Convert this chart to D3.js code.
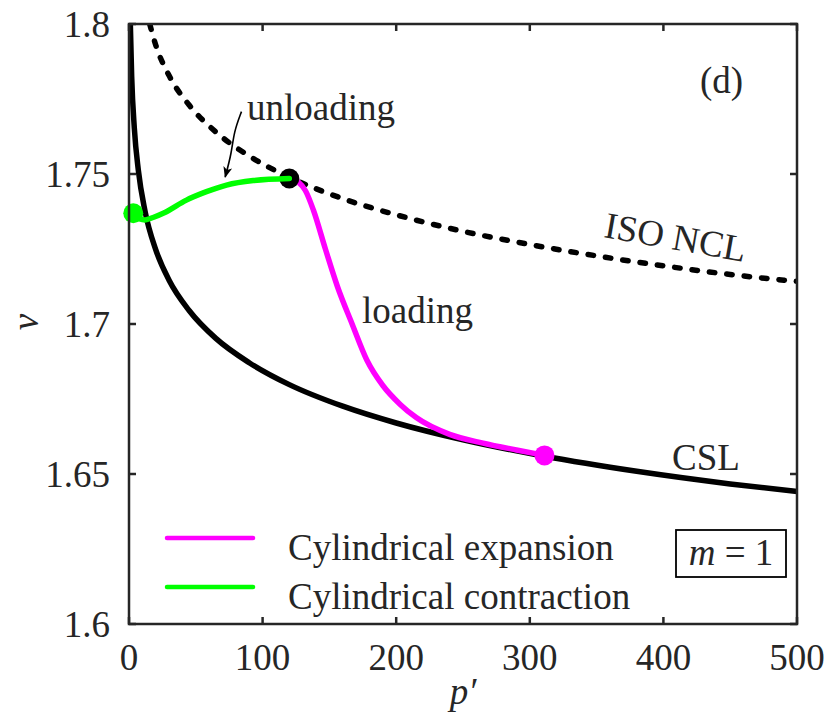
<!DOCTYPE html>
<html>
<head>
<script src="https://d3js.org/d3.v7.min.js"></script>
<style>
  body { margin: 0; background: #fff; }
  svg text { font-family: "Times New Roman", "Liberation Serif", Tinos, "DejaVu Serif", serif; }
</style>
</head>
<body>
<svg width="831" height="717"></svg>
<script>
"use strict";

// critical state line (p', v)
var cslP = [1, 2, 4, 7, 12, 20, 30, 45, 65, 90, 120, 160, 200, 250, 310, 380, 450, 500];
var cslV = [1.800, 1.7826, 1.7652, 1.7512, 1.7376, 1.7248, 1.7146, 1.7045, 1.6952, 1.6871,
            1.6798, 1.6726, 1.6670, 1.6614, 1.6560, 1.6509, 1.6467, 1.6442];

// isotropic normal compression line
var nclP = [15.5, 20, 30, 45, 65, 90, 120, 160, 200, 250, 300, 350, 400, 450, 500];
var nclV = [1.800, 1.7930, 1.7828, 1.7730, 1.7640, 1.7560, 1.7489, 1.7418, 1.7364, 1.7309,
            1.7265, 1.7227, 1.7194, 1.7165, 1.7142];

// cylindrical expansion (loading)
var expP = [120, 127, 132, 138, 147, 156, 167, 178, 190, 203, 215, 240, 265, 290, 311];
var expV = [1.7485, 1.7472, 1.7445, 1.7380, 1.7250, 1.7125, 1.7000, 1.6880, 1.6795, 1.6732,
            1.6688, 1.6632, 1.6603, 1.6580, 1.6562];

// cylindrical contraction (unloading)
var conP = [3.2, 8, 12, 18, 26, 43, 58, 73, 93, 120];
var conV = [1.7369, 1.7350, 1.7347, 1.7355, 1.7370, 1.7413, 1.7441, 1.7463, 1.7478, 1.7485];

var xTicks = [0, 100, 200, 300, 400, 500];
var yTicks = [1.6, 1.65, 1.7, 1.75, 1.8];

var svg = d3.select("svg"),
    margin = {left: 129, top: 24, right: 34, bottom: 93},
    width = +svg.attr("width") - margin.left - margin.right,
    height = +svg.attr("height") - margin.top - margin.bottom;

var x = d3.scaleLinear().domain([0, 500]).range([0, width]),
    y = d3.scaleLinear().domain([1.6, 1.8]).range([height, 0]);

var g = svg.append("g").attr("transform", "translate(" + margin.left + "," + margin.top + ")");

svg.append("defs").append("clipPath").attr("id", "clip")
    .append("rect").attr("width", width).attr("height", height);

var zip = (ps, vs) => ps.map((p, i) => [p, vs[i]]);
var line = d3.line().x(d => x(d[0])).y(d => y(d[1])).curve(d3.curveMonotoneX);
var lw = 5.5, fs = 37;

var plot = g.append("g").attr("clip-path", "url(#clip)");

plot.append("path").attr("d", line(zip(cslP, cslV)))
    .attr("fill", "none").attr("stroke", "#000").attr("stroke-width", lw);

plot.append("path").attr("d", line(zip(nclP, nclV)))
    .attr("fill", "none").attr("stroke", "#000").attr("stroke-width", lw)
    .attr("stroke-linecap", "round").attr("stroke-dasharray", "5.5,12");

plot.append("path").attr("d", line(zip(expP, expV)))
    .attr("fill", "none").attr("stroke", "#ff00ff").attr("stroke-width", lw);

// start point of both paths
g.append("circle").attr("cx", x(expP[0])).attr("cy", y(expV[0])).attr("r", 10).attr("fill", "#000");

g.append("path").attr("d", line(zip(conP, conV)))
    .attr("fill", "none").attr("stroke", "#00ff00").attr("stroke-width", lw)
    .attr("stroke-linecap", "round");

g.append("circle").attr("cx", x(conP[0])).attr("cy", y(conV[0])).attr("r", 10).attr("fill", "#00ff00");
g.append("circle").attr("cx", x(expP[expP.length - 1])).attr("cy", y(expV[expV.length - 1]))
    .attr("r", 10).attr("fill", "#ff00ff");

// box + ticks
var axisColor = "#262626";
g.append("rect").attr("width", width).attr("height", height)
    .attr("fill", "none").attr("stroke", axisColor).attr("stroke-width", 2.5);

var tl = 7;
xTicks.forEach(t => {
    g.append("line").attr("x1", x(t)).attr("x2", x(t)).attr("y1", height).attr("y2", height - tl)
        .attr("stroke", axisColor).attr("stroke-width", 2.5);
    g.append("line").attr("x1", x(t)).attr("x2", x(t)).attr("y1", 0).attr("y2", tl)
        .attr("stroke", axisColor).attr("stroke-width", 2.5);
    g.append("text").attr("x", x(t)).attr("y", height + 46).attr("text-anchor", "middle")
        .attr("font-size", fs).attr("fill", axisColor).text(t);
});
yTicks.forEach(t => {
    g.append("line").attr("x1", 0).attr("x2", tl).attr("y1", y(t)).attr("y2", y(t))
        .attr("stroke", axisColor).attr("stroke-width", 2.5);
    g.append("line").attr("x1", width).attr("x2", width - tl).attr("y1", y(t)).attr("y2", y(t))
        .attr("stroke", axisColor).attr("stroke-width", 2.5);
    g.append("text").attr("x", -19).attr("y", y(t)).attr("dy", "0.35em").attr("text-anchor", "end")
        .attr("font-size", fs).attr("fill", axisColor).text(d3.format("")(t));
});

// axis labels
g.append("text").attr("x", width / 2).attr("y", height + 80).attr("text-anchor", "middle")
    .attr("font-size", fs).attr("font-style", "italic").attr("fill", axisColor).text("p\u2032");
svg.append("text").attr("transform", "translate(38,322) rotate(-90)").attr("text-anchor", "middle")
    .attr("font-size", fs).attr("font-style", "italic").attr("fill", axisColor).text("\u03bd");

// annotations
var ann = [["(d)", 700, 93], ["unloading", 247, 120], ["loading", 362, 323], ["CSL", 672, 470]];
ann.forEach(a => svg.append("text").attr("x", a[1]).attr("y", a[2])
    .attr("font-size", fs).attr("fill", axisColor).text(a[0]));
svg.append("text").attr("transform", "translate(603,237) rotate(10)")
    .attr("font-size", fs).attr("fill", axisColor).text("ISO NCL");

// curved arrow pointing at the unloading path
var arrowPts = [[84.2, 1.7708], [78.5, 1.7640], [76.8, 1.7570], [72, 1.7490]];
svg.append("defs").append("marker").attr("id", "head")
    .attr("viewBox", "0 0 10 10").attr("refX", 9).attr("refY", 5)
    .attr("markerWidth", 7).attr("markerHeight", 7).attr("markerUnits", "strokeWidth")
    .attr("orient", "auto")
    .append("path").attr("d", "M0,1 L10,5 L0,9 L2.5,5 Z").attr("fill", "#000");
g.append("path").attr("d", d3.line().x(d => x(d[0])).y(d => y(d[1])).curve(d3.curveBasis)(arrowPts))
    .attr("fill", "none").attr("stroke", "#000").attr("stroke-width", 1.6)
    .attr("marker-end", "url(#head)");

// legend
var legend = [["Cylindrical expansion", "#ff00ff"], ["Cylindrical contraction", "#00ff00"]];
legend.forEach((d, i) => {
    var ly = 538 + i * 49;
    svg.append("line").attr("x1", 167).attr("x2", 253).attr("y1", ly).attr("y2", ly)
        .attr("stroke", d[1]).attr("stroke-width", 4.5).attr("stroke-linecap", "round");
    svg.append("text").attr("x", 288).attr("y", ly + 22).attr("font-size", fs)
        .attr("fill", axisColor).text(d[0]);
});

// m = 1 box
svg.append("rect").attr("x", 676).attr("y", 530).attr("width", 110).attr("height", 47)
    .attr("fill", "#fff").attr("stroke", "#000").attr("stroke-width", 1.8);
var mt = svg.append("text").attr("x", 731).attr("y", 565).attr("text-anchor", "middle")
    .attr("font-size", fs).attr("fill", axisColor);
mt.append("tspan").attr("font-style", "italic").text("m");
mt.append("tspan").text(" = 1");
</script>
</body>
</html>
